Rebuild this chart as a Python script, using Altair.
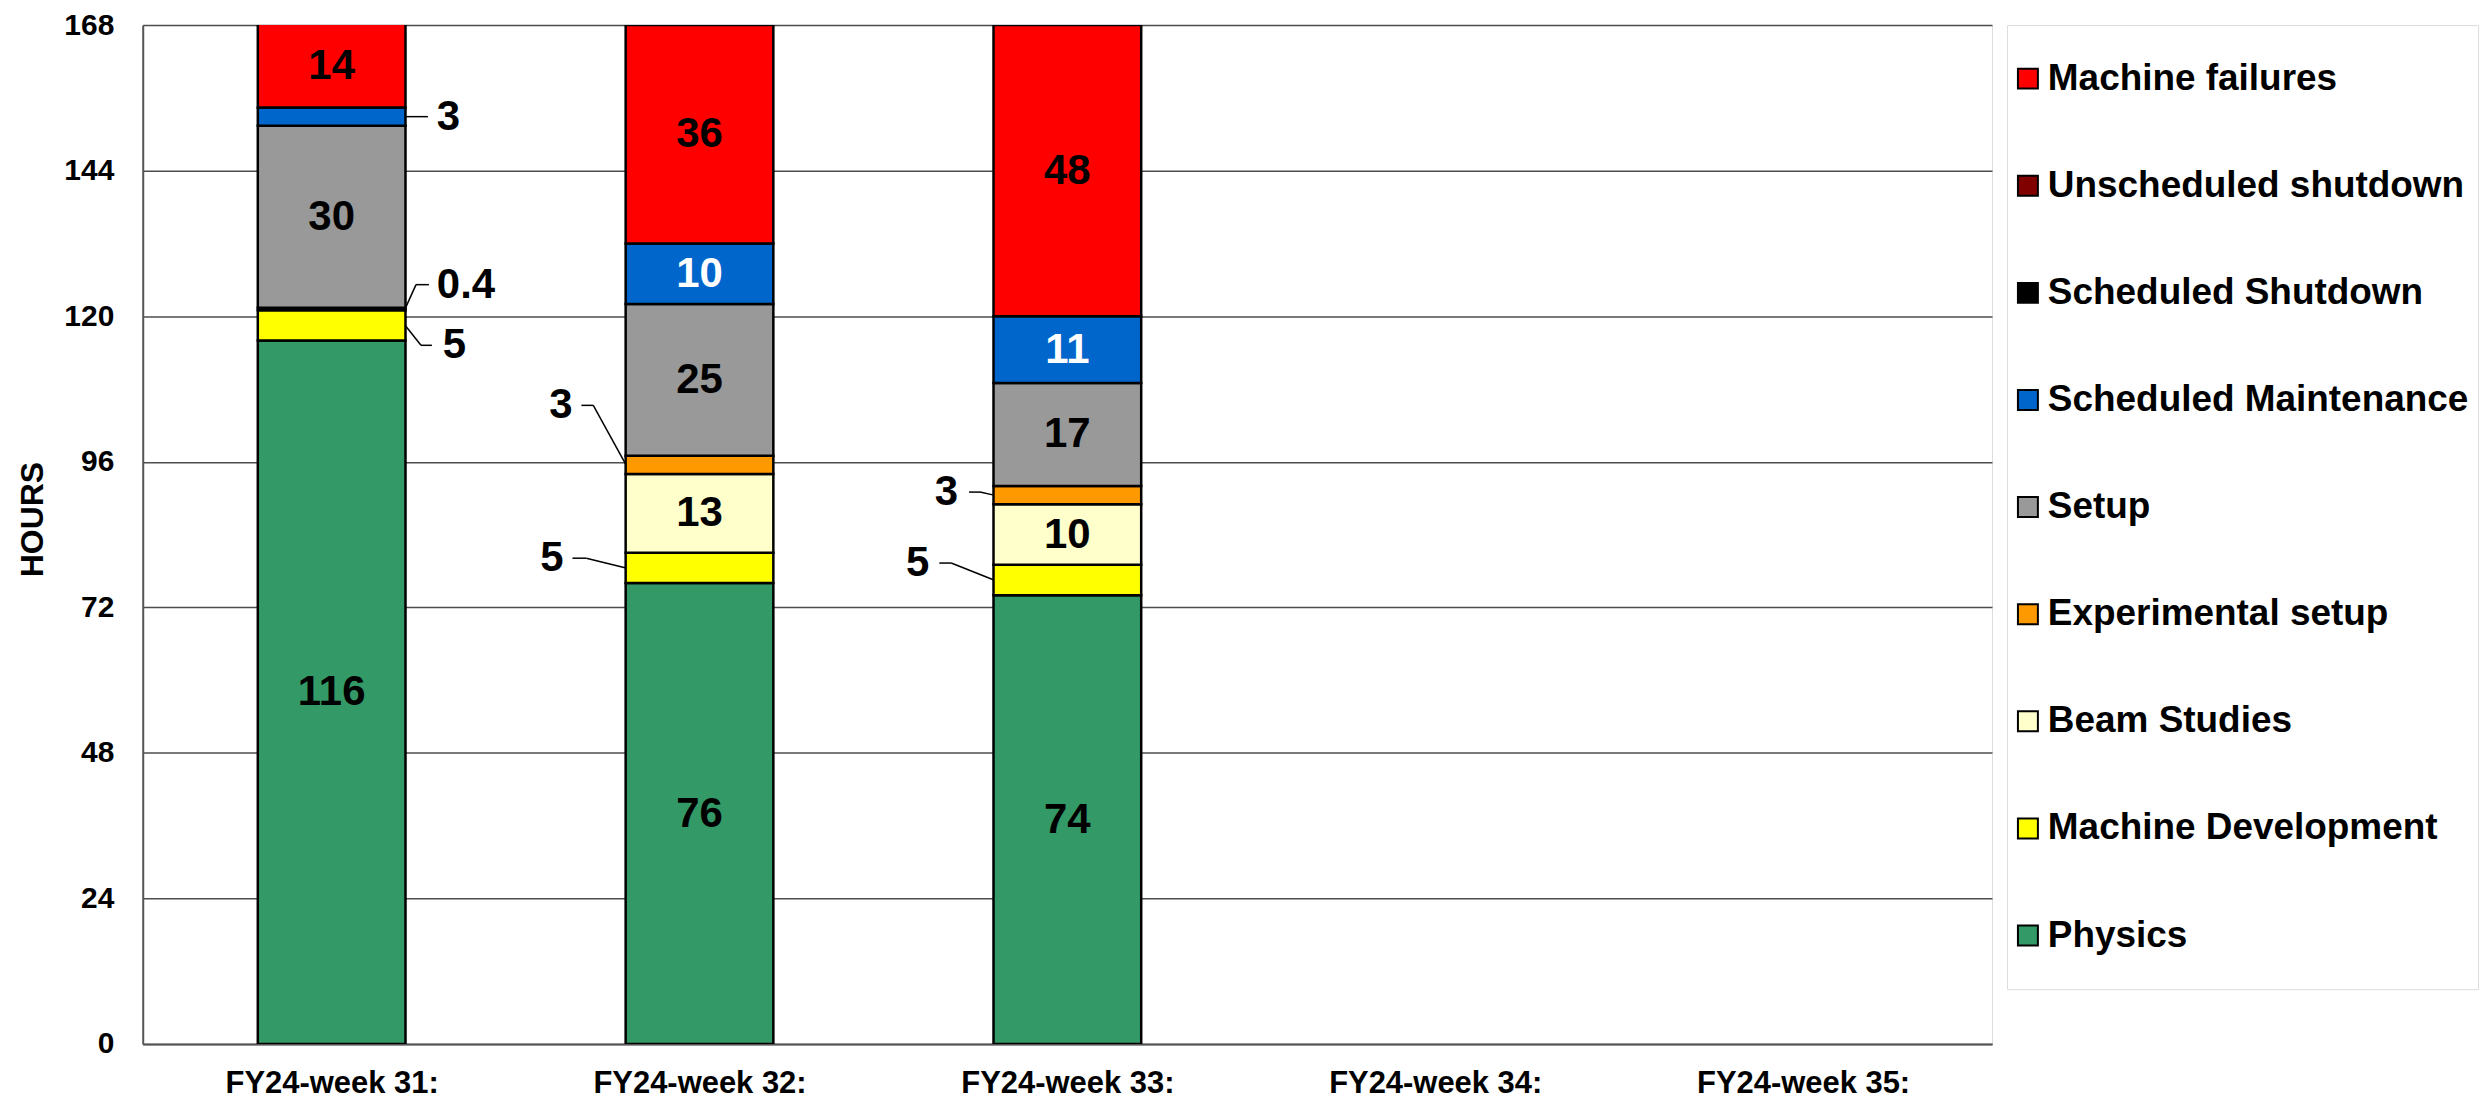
import json
import altair as alt
import pandas as pd

# ---------------- data ----------------
weeks = ["FY24-week 31:", "FY24-week 32:", "FY24-week 33:", "FY24-week 34:", "FY24-week 35:"]

# stack order, bottom -> top
categories = [
    "Physics",
    "Machine Development",
    "Beam Studies",
    "Experimental setup",
    "Setup",
    "Scheduled Maintenance",
    "Scheduled Shutdown",
    "Unscheduled shutdown",
    "Machine failures",
]
colors = ["#339966", "#FFFF00", "#FFFFCC", "#FF9900", "#999999",
          "#0066CC", "#000000", "#800000", "#FF0000"]

physics = [116, 76, 74]
machine_development = [5, 5, 5]
beam_studies = [0, 13, 10]
experimental_setup = [0.4, 3, 3]
setup = [30, 25, 17]
scheduled_maintenance = [3, 10, 11]
scheduled_shutdown = [0, 0, 0]
unscheduled_shutdown = [0, 0, 0]
machine_failures = [14, 36, 48]

series = {
    "Physics": physics,
    "Machine Development": machine_development,
    "Beam Studies": beam_studies,
    "Experimental setup": experimental_setup,
    "Setup": setup,
    "Scheduled Maintenance": scheduled_maintenance,
    "Scheduled Shutdown": scheduled_shutdown,
    "Unscheduled shutdown": unscheduled_shutdown,
    "Machine failures": machine_failures,
}

# callout labels for thin segments: (week index, category, side, label height in hours,
#   elbow px, leader end px, text px from bar edge)
callouts = [
    (0, "Scheduled Maintenance", 1, 152.9, 0, 23, 32),
    (0, "Experimental setup", 1, 125.2, 11, 24, 32),
    (0, "Machine Development", 1, 115.2, 16, 27, 38),
    (1, "Experimental setup", -1, 105.3, 33, 45, 54),
    (1, "Machine Development", -1, 80.1, 40, 54, 63),
    (2, "Experimental setup", -1, 91.0, 14, 25, 36),
    (2, "Machine Development", -1, 79.3, 43, 55, 65),
]

# ---------------- layout constants ----------------
W, H = 1853, 1021
YMAX = 168
BAR_W = 148
PX = W / len(weeks)          # px per category unit
FONT = "Liberation Sans"

# ---------------- tables ----------------
rows = []
for wi in range(3):
    base = 0.0
    for ci, cat in enumerate(categories):
        v = series[cat][wi]
        rows.append(dict(wi=wi, week=weeks[wi], cat=cat, order=ci, hours=v,
                         y0=base, y1=base + v))
        base += v
df = pd.DataFrame(rows)
df["mid"] = (df["y0"] + df["y1"].clip(upper=YMAX)) / 2
df["label"] = df["hours"].map(lambda v: f"{v:g}")
df = df[df["hours"] > 0].reset_index(drop=True)

called = {(c[0], c[1]) for c in callouts}
inside = df[[(w, c) not in called for w, c in zip(df["wi"], df["cat"])]].copy()
inside["tcol"] = ["white" if c == "Scheduled Maintenance" else "black" for c in inside["cat"]]

seg_rows, lab_rows = [], []
for wi, cat, side, ly, elb, end, tx in callouts:
    r = df[(df["wi"] == wi) & (df["cat"] == cat)].iloc[0]
    edge = wi + side * (BAR_W / 2) / PX
    ex = edge + side * elb / PX
    nx = edge + side * end / PX
    seg_rows.append(dict(x=edge, y=r["mid"], x2=ex, y2=ly))
    seg_rows.append(dict(x=ex, y=ly, x2=nx, y2=ly))
    lab_rows.append(dict(x=edge + side * tx / PX, y=ly, label=r["label"],
                         side="right" if side > 0 else "left"))
segs = pd.DataFrame(seg_rows)
labs = pd.DataFrame(lab_rows)

# ---------------- scales / axes ----------------
label_expr = json.dumps(weeks) + "[datum.value]"
xscale = alt.Scale(domain=[-0.5, len(weeks) - 0.5], nice=False, zero=False)
yscale = alt.Scale(domain=[0, YMAX], nice=False)
cscale = alt.Scale(domain=categories, range=colors)

xaxis = alt.Axis(values=list(range(len(weeks))), labelExpr=label_expr, title=None,
                 ticks=False, grid=False, labelFontSize=31, labelFontWeight="bold",
                 labelFont=FONT, labelColor="black", labelPadding=25, labelFlush=False,
                 labelLimit=1000, labelOverlap=False, domainColor="#555555", domainWidth=2)
yaxis = alt.Axis(values=list(range(0, YMAX + 1, 24)), title="HOURS", titleFont=FONT,
                 titleFontSize=32, titleFontWeight="bold", titleColor="black",
                 titlePadding=14, titleY=495,
                 ticks=False, labelFontSize=30, labelFontWeight="bold", labelFont=FONT,
                 labelColor="black", labelPadding=29,
                 grid=True, gridColor="#4d4d4d", gridWidth=1.5,
                 domainColor="#555555", domainWidth=2)

bars = alt.Chart(df).mark_bar(width=BAR_W, stroke="black", strokeWidth=2.5, clip=True).encode(
    x=alt.X("wi:Q", scale=xscale, axis=xaxis),
    y=alt.Y("y0:Q", scale=yscale, axis=yaxis),
    y2="y1:Q",
    color=alt.Color("cat:N", scale=cscale, legend=None),
)

in_text = alt.Chart(inside).mark_text(fontSize=42, fontWeight="bold", font=FONT,
                                      baseline="middle", align="center").encode(
    x=alt.X("wi:Q", scale=xscale),
    y=alt.Y("mid:Q", scale=yscale),
    text="label:N",
    color=alt.Color("tcol:N", scale=None),
)

leaders = alt.Chart(segs).mark_rule(color="black", strokeWidth=1.5).encode(
    x=alt.X("x:Q", scale=xscale), x2="x2:Q",
    y=alt.Y("y:Q", scale=yscale), y2="y2:Q",
)

out_right = alt.Chart(labs).transform_filter(alt.datum.side == "right").mark_text(
    fontSize=42, fontWeight="bold", font=FONT, baseline="middle", align="left", color="black"
).encode(x=alt.X("x:Q", scale=xscale), y=alt.Y("y:Q", scale=yscale), text="label:N")

out_left = alt.Chart(labs).transform_filter(alt.datum.side == "left").mark_text(
    fontSize=42, fontWeight="bold", font=FONT, baseline="middle", align="right", color="black"
).encode(x=alt.X("x:Q", scale=xscale), y=alt.Y("y:Q", scale=yscale), text="label:N")

main = alt.layer(bars, leaders, in_text, out_right, out_left).properties(width=W, height=H)

# ---------------- legend panel ----------------
legend_order = categories[::-1]
ldf = pd.DataFrame({"cat": legend_order})
lbase = alt.Chart(ldf).encode(
    y=alt.Y("cat:N", sort=legend_order, axis=None,
            scale=alt.Scale(type="point", padding=0.5)),
)
lsym = lbase.mark_square(size=400, stroke="black", strokeWidth=2, opacity=1, filled=True).encode(
    x=alt.value(21),
    color=alt.Color("cat:N", scale=cscale, legend=None),
)
ltxt = lbase.mark_text(align="left", baseline="middle", fontSize=37, fontWeight="bold",
                       font=FONT, color="black").encode(x=alt.value(41), text="cat:N")
legend_panel = alt.layer(lsym, ltxt).properties(width=472, height=966)

chart = alt.hconcat(main, legend_panel, spacing=15, bounds="flush").properties(
    padding={"left": 8, "top": 0, "right": 0, "bottom": 0},
).configure_view(stroke="#808080", strokeWidth=2).configure(font=FONT)

chart.save("out.html", embed_options={"renderer": "svg", "actions": False})
